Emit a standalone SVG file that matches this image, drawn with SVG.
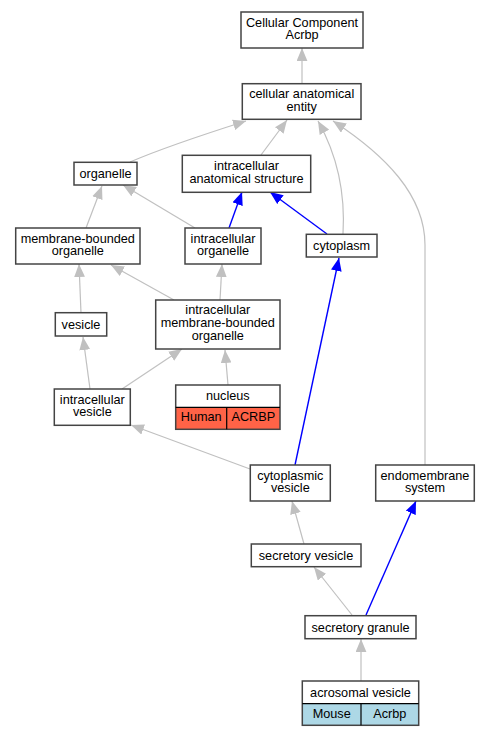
<svg xmlns="http://www.w3.org/2000/svg" width="491" height="736" viewBox="0 0 491 736">
<style>
.n{fill:#fff;stroke:#444;stroke-width:1.5}
.c{stroke:#000;stroke-width:1.2}
text{font-family:"Liberation Sans",Arial,sans-serif;font-size:12.7px;fill:#000;text-anchor:middle}
.g{fill:none;stroke:#c0c0c0;stroke-width:1.2}
.b{fill:none;stroke:#0000ff;stroke-width:1.4}
</style>
<defs>
<marker id="ag" markerUnits="userSpaceOnUse" markerWidth="13" markerHeight="11" refX="12" refY="5" orient="auto" viewBox="0 0 12 10"><path d="M0,0 L12,5 L0,10 z" fill="#c0c0c0"/></marker>
<marker id="ab" markerUnits="userSpaceOnUse" markerWidth="13" markerHeight="11" refX="12" refY="5" orient="auto" viewBox="0 0 12 10"><path d="M0,0 L12,5 L0,10 z" fill="#0000ff"/></marker>
</defs>
<rect width="491" height="736" fill="#fff"/>
<g id="edges">
<path class="g" marker-end="url(#ag)" d="M302,83 L302,48"/>
<path class="g" marker-end="url(#ag)" d="M130,162 C165,147 205,134 246,121"/>
<path class="g" marker-end="url(#ag)" d="M261,155 L287,120"/>
<path class="g" marker-end="url(#ag)" d="M343,234 C345,200 340,160 318,121"/>
<path class="g" marker-end="url(#ag)" d="M425,465 L425,245 C425,195 385,155 333,121"/>
<path class="g" marker-end="url(#ag)" d="M86,228 L102,186"/>
<path class="g" marker-end="url(#ag)" d="M195,228 L123,185"/>
<path class="b" marker-end="url(#ab)" d="M229,228 L242,192"/>
<path class="b" marker-end="url(#ab)" d="M327,234 L270,192"/>
<path class="g" marker-end="url(#ag)" d="M81,313 L79,264"/>
<path class="g" marker-end="url(#ag)" d="M174,300 L111,265"/>
<path class="g" marker-end="url(#ag)" d="M220,300 L222,264"/>
<path class="g" marker-end="url(#ag)" d="M90,389 L83,337"/>
<path class="g" marker-end="url(#ag)" d="M122,389 L182,349"/>
<path class="g" marker-end="url(#ag)" d="M228,385 L225,350"/>
<path class="g" marker-end="url(#ag)" d="M250,469 L131,425"/>
<path class="b" marker-end="url(#ab)" d="M295,465 L339,258"/>
<path class="g" marker-end="url(#ag)" d="M304,544 L292,501"/>
<path class="g" marker-end="url(#ag)" d="M352,615 L314,567"/>
<path class="b" marker-end="url(#ab)" d="M366,615 L416,501"/>
<path class="g" marker-end="url(#ag)" d="M361,681 L361,639"/>
</g>
<g id="cca"><rect class="n" x="241" y="12" width="122" height="36"/><text x="302" y="26.5">Cellular Component</text><text x="302" y="39.3">Acrbp</text></g>
<g id="cae"><rect class="n" x="242.3" y="83.7" width="118.7" height="35.6"/><text x="301.7" y="98">cellular anatomical</text><text x="301.7" y="110.8">entity</text></g>
<g id="organelle"><rect class="n" x="74" y="162.3" width="63" height="22.7"/><text x="105.5" y="177.8">organelle</text></g>
<g id="ias"><rect class="n" x="182.3" y="155.3" width="128.4" height="37"/><text x="246.5" y="170.3">intracellular</text><text x="246.5" y="183.1">anatomical structure</text></g>
<g id="mbo"><rect class="n" x="15.7" y="228" width="124.3" height="36"/><text x="77.8" y="242.5">membrane-bounded</text><text x="77.8" y="255.3">organelle</text></g>
<g id="io"><rect class="n" x="185" y="228" width="76" height="36"/><text x="223" y="242.5">intracellular</text><text x="223" y="255.3">organelle</text></g>
<g id="cytoplasm"><rect class="n" x="306.3" y="234.3" width="70.7" height="22.7"/><text x="341.6" y="250">cytoplasm</text></g>
<g id="vesicle"><rect class="n" x="55.3" y="312.7" width="51.4" height="23.3"/><text x="81" y="328.6">vesicle</text></g>
<g id="imbo"><rect class="n" x="155.7" y="300" width="124.3" height="49"/><text x="217.8" y="314">intracellular</text><text x="217.8" y="327">membrane-bounded</text><text x="217.8" y="339.6">organelle</text></g>
<g id="iv"><rect class="n" x="54.3" y="389" width="76" height="36.3"/><text x="92.3" y="403.5">intracellular</text><text x="92.3" y="416.3">vesicle</text></g>
<g id="nucleus"><rect x="175.7" y="407.3" width="104.3" height="22" fill="#ff6347"/><rect class="n" x="175.7" y="385" width="104.3" height="44.3" fill="none" style="fill:none"/><line class="c" x1="175.7" y1="407.3" x2="280" y2="407.3"/><line class="c" x1="226.7" y1="407.3" x2="226.7" y2="429.3"/><text x="227.8" y="400">nucleus</text><text x="201.2" y="421">Human</text><text x="253.3" y="421">ACRBP</text></g>
<g id="cv"><rect class="n" x="250.3" y="465" width="80" height="36"/><text x="290.3" y="479.5">cytoplasmic</text><text x="290.3" y="492.3">vesicle</text></g>
<g id="es"><rect class="n" x="375.7" y="465" width="98.6" height="36"/><text x="425" y="479.5">endomembrane</text><text x="425" y="492.3">system</text></g>
<g id="sv"><rect class="n" x="251.3" y="544" width="109.7" height="22.7"/><text x="306" y="559.6">secretory vesicle</text></g>
<g id="sg"><rect class="n" x="305" y="615.7" width="111" height="23"/><text x="360.5" y="631.5">secretory granule</text></g>
<g id="av"><rect x="302.3" y="703.7" width="116.4" height="21.6" fill="#add8e6"/><rect class="n" x="302.3" y="681" width="116.4" height="44.3" style="fill:none"/><line class="c" x1="302.3" y1="703.7" x2="418.7" y2="703.7"/><line class="c" x1="361" y1="703.7" x2="361" y2="725.3"/><text x="360.5" y="696.5">acrosomal vesicle</text><text x="331.7" y="718">Mouse</text><text x="389.8" y="718">Acrbp</text></g>
</svg>
